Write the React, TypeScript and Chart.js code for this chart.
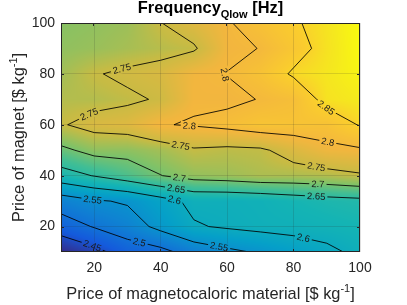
import React, { useEffect, useRef } from "react";
import { Chart, registerables } from "chart.js";

Chart.register(...registerables);

// Grid of the surface: price of magnetocaloric material (x) and price of magnet (y)
const mcmPrice = [10, 20, 30, 40, 50, 60, 70, 80, 90, 100];
const magnetPrice = [10, 20, 30, 40, 50, 60, 70, 80, 90, 100];

// Frequency_Qlow [Hz], one row per magnet price, one value per magnetocaloric price
const freqMagnet10 = [2.405, 2.435, 2.474, 2.486, 2.52, 2.54, 2.555, 2.575, 2.59, 2.61];
const freqMagnet20 = [2.475, 2.503, 2.526, 2.563, 2.596, 2.605, 2.612, 2.614, 2.619, 2.625];
const freqMagnet30 = [2.525, 2.545, 2.555, 2.582, 2.611, 2.611, 2.615, 2.625, 2.633, 2.638];
const freqMagnet40 = [2.63, 2.652, 2.675, 2.699, 2.717, 2.722, 2.731, 2.731, 2.735, 2.745];
const freqMagnet50 = [2.69, 2.714, 2.714, 2.726, 2.745, 2.74, 2.743, 2.768, 2.79, 2.794];
const freqMagnet60 = [2.746, 2.766, 2.772, 2.798, 2.803, 2.812, 2.825, 2.823, 2.82, 2.853];
const freqMagnet70 = [2.735, 2.735, 2.743, 2.754, 2.794, 2.7925, 2.8013, 2.813, 2.866, 2.875];
const freqMagnet80 = [2.725, 2.747, 2.758, 2.765, 2.7928, 2.8008, 2.821, 2.856, 2.87, 2.885];
const freqMagnet90 = [2.715, 2.72, 2.728, 2.737, 2.745, 2.7928, 2.8008, 2.831, 2.866, 2.89];
const freqMagnet100 = [2.71, 2.715, 2.722, 2.749, 2.773, 2.796, 2.82, 2.844, 2.868, 2.892];

const contourLevels = [2.45, 2.5, 2.55, 2.6, 2.65, 2.7, 2.75, 2.8, 2.85];

// Contour labels: level and approximate location (data coordinates)
const labelLevel = [2.75, 2.75, 2.75, 2.75, 2.8, 2.8, 2.8, 2.85, 2.7, 2.7, 2.65, 2.65, 2.6, 2.6, 2.55, 2.55, 2.5, 2.45];
const labelX = [28.5, 18, 46.1, 86.8, 58.9, 48.6, 90.3, 90.3, 45.6, 87.3, 44.6, 86.8, 44.1, 82.9, 19.5, 57.6, 33.6, 19.5];
const labelY = [81.1, 65.3, 52.3, 43.2, 78.9, 59.3, 53.2, 67.5, 38.7, 36.1, 34.5, 32.0, 30.2, 15.3, 30.5, 12.1, 14.0, 12.7];

const xTicks = [20, 40, 60, 80, 100];
const yTicks = [20, 40, 60, 80, 100];

const titleMain = "Frequency";
const titleSub = "Qlow";
const titleUnit = " [Hz]";
const xTitle = "Price of magnetocaloric material [$ kg";
const yTitle = "Price of magnet [$ kg";
const unitSup = "-1";

const Z: number[][] = [
  freqMagnet10, freqMagnet20, freqMagnet30, freqMagnet40, freqMagnet50,
  freqMagnet60, freqMagnet70, freqMagnet80, freqMagnet90, freqMagnet100,
];

const zMin = Math.min(...Z.map((r) => Math.min(...r)));
const zMax = Math.max(...Z.map((r) => Math.max(...r)));

const FONT = "'Liberation Sans', Arial, Helvetica, sans-serif";
const AXIS_COLOR = "#262626";

type P = { x: number; y: number };

const parulaStops: number[][] = [
  [0.0, 53, 42, 135],
  [0.12, 20, 90, 220],
  [0.25, 15, 130, 210],
  [0.35, 5, 160, 200],
  [0.45, 20, 180, 180],
  [0.54, 65, 190, 148],
  [0.62, 130, 194, 102],
  [0.7, 198, 187, 68],
  [0.8, 243, 182, 62],
  [0.9, 250, 204, 46],
  [0.96, 245, 232, 30],
  [1.0, 249, 251, 14],
];

function parula(t: number): number[] {
  t = Math.max(0, Math.min(1, t));
  for (let i = 1; i < parulaStops.length; i++) {
    const b = parulaStops[i];
    if (t <= b[0]) {
      const a = parulaStops[i - 1];
      const f = (t - a[0]) / (b[0] - a[0]);
      return [a[1] + f * (b[1] - a[1]), a[2] + f * (b[2] - a[2]), a[3] + f * (b[3] - a[3])];
    }
  }
  const l = parulaStops[parulaStops.length - 1];
  return [l[1], l[2], l[3]];
}

function findCell(arr: number[], v: number): [number, number] {
  let i = 0;
  while (i < arr.length - 2 && v > arr[i + 1]) i++;
  let f = (v - arr[i]) / (arr[i + 1] - arr[i]);
  f = Math.max(0, Math.min(1, f));
  return [i, f];
}

function bilinear(x: number, y: number): number {
  const [i, fx] = findCell(mcmPrice, x);
  const [j, fy] = findCell(magnetPrice, y);
  const z00 = Z[j][i], z10 = Z[j][i + 1], z01 = Z[j + 1][i], z11 = Z[j + 1][i + 1];
  return (z00 * (1 - fx) + z10 * fx) * (1 - fy) + (z01 * (1 - fx) + z11 * fx) * fy;
}

function edgePoint(i1: number, j1: number, i2: number, j2: number, L: number): P {
  if (i2 < i1 || (i2 === i1 && j2 < j1)) {
    [i1, i2] = [i2, i1];
    [j1, j2] = [j2, j1];
  }
  const za = Z[j1][i1], zb = Z[j2][i2];
  const t = (L - za) / (zb - za);
  return {
    x: mcmPrice[i1] + t * (mcmPrice[i2] - mcmPrice[i1]),
    y: magnetPrice[j1] + t * (magnetPrice[j2] - magnetPrice[j1]),
  };
}

function contourLines(L: number): P[][] {
  const segs: [P, P][] = [];
  for (let j = 0; j < magnetPrice.length - 1; j++) {
    for (let i = 0; i < mcmPrice.length - 1; i++) {
      const a00 = Z[j][i] >= L, a10 = Z[j][i + 1] >= L, a01 = Z[j + 1][i] >= L, a11 = Z[j + 1][i + 1] >= L;
      const pts: { [k: string]: P } = {};
      if (a00 !== a10) pts.b = edgePoint(i, j, i + 1, j, L);
      if (a10 !== a11) pts.r = edgePoint(i + 1, j, i + 1, j + 1, L);
      if (a01 !== a11) pts.t = edgePoint(i, j + 1, i + 1, j + 1, L);
      if (a00 !== a01) pts.l = edgePoint(i, j, i, j + 1, L);
      const keys = Object.keys(pts);
      if (keys.length === 2) {
        segs.push([pts[keys[0]], pts[keys[1]]]);
      } else if (keys.length === 4) {
        const c = (Z[j][i] + Z[j][i + 1] + Z[j + 1][i] + Z[j + 1][i + 1]) / 4 >= L;
        if (c === a00) {
          segs.push([pts.b, pts.r]);
          segs.push([pts.t, pts.l]);
        } else {
          segs.push([pts.l, pts.b]);
          segs.push([pts.r, pts.t]);
        }
      }
    }
  }
  const key = (p: P) => p.x.toFixed(6) + "," + p.y.toFixed(6);
  const used = segs.map(() => false);
  const lines: P[][] = [];
  for (let s = 0; s < segs.length; s++) {
    if (used[s]) continue;
    used[s] = true;
    const line = [segs[s][0], segs[s][1]];
    let ext = true;
    while (ext) {
      ext = false;
      for (let k = 0; k < segs.length; k++) {
        if (used[k]) continue;
        const [a, b] = segs[k];
        const head = key(line[0]);
        const tail = key(line[line.length - 1]);
        if (key(a) === tail) line.push(b);
        else if (key(b) === tail) line.push(a);
        else if (key(a) === head) line.unshift(b);
        else if (key(b) === head) line.unshift(a);
        else continue;
        used[k] = true;
        ext = true;
      }
    }
    lines.push(line);
  }
  return lines;
}

const contours = contourLevels.map((L) => contourLines(L));

function fmtLevel(v: number): string {
  return String(Math.round(v * 100) / 100);
}

let heatCanvas: HTMLCanvasElement | null = null;

const heatPlugin = {
  id: "heatmap",
  beforeDraw(chart: any) {
    const { ctx, chartArea: a, scales } = chart;
    const w = Math.round(a.right - a.left);
    const h = Math.round(a.bottom - a.top);
    const off = document.createElement("canvas");
    off.width = w;
    off.height = h;
    const octx = off.getContext("2d")!;
    const img = octx.createImageData(w, h);
    for (let py = 0; py < h; py++) {
      const yv = scales.y.getValueForPixel(a.top + py + 0.5);
      for (let px = 0; px < w; px++) {
        const xv = scales.x.getValueForPixel(a.left + px + 0.5);
        const z = bilinear(xv, yv);
        const c = parula((z - zMin) / (zMax - zMin));
        const k = (py * w + px) * 4;
        img.data[k] = c[0];
        img.data[k + 1] = c[1];
        img.data[k + 2] = c[2];
        img.data[k + 3] = 255;
      }
    }
    octx.putImageData(img, 0, 0);
    heatCanvas = off;
    ctx.drawImage(off, a.left, a.top);
  },
  afterDatasetsDraw(chart: any) {
    const { ctx, chartArea: a, scales } = chart;
    ctx.save();
    ctx.font = `9.5px ${FONT}`;
    for (let n = 0; n < labelLevel.length; n++) {
      const li = contourLevels.findIndex((L) => Math.abs(L - labelLevel[n]) < 1e-9);
      if (li < 0) continue;
      const tx = scales.x.getPixelForValue(labelX[n]);
      const ty = scales.y.getPixelForValue(labelY[n]);
      let best = { d: Infinity, line: [] as { x: number; y: number }[], seg: 0, t: 0 };
      for (const line of contours[li]) {
        const pl = line.map((p) => ({ x: scales.x.getPixelForValue(p.x), y: scales.y.getPixelForValue(p.y) }));
        for (let s = 0; s < pl.length - 1; s++) {
          const A = pl[s], B = pl[s + 1];
          const dx = B.x - A.x, dy = B.y - A.y;
          const len2 = dx * dx + dy * dy || 1e-9;
          let t = ((tx - A.x) * dx + (ty - A.y) * dy) / len2;
          t = Math.max(0, Math.min(1, t));
          const qx = A.x + t * dx, qy = A.y + t * dy;
          const d = (qx - tx) ** 2 + (qy - ty) ** 2;
          if (d < best.d) best = { d, line: pl, seg: s, t };
        }
      }
      if (!best.line.length) continue;
      const pl = best.line;
      const cum = [0];
      for (let s = 1; s < pl.length; s++) cum.push(cum[s - 1] + Math.hypot(pl[s].x - pl[s - 1].x, pl[s].y - pl[s - 1].y));
      const s0 = cum[best.seg] + best.t * (cum[best.seg + 1] - cum[best.seg]);
      const at = (s: number) => {
        s = Math.max(0, Math.min(cum[cum.length - 1], s));
        let k = 0;
        while (k < cum.length - 2 && s > cum[k + 1]) k++;
        const f = (s - cum[k]) / ((cum[k + 1] - cum[k]) || 1e-9);
        return { x: pl[k].x + f * (pl[k + 1].x - pl[k].x), y: pl[k].y + f * (pl[k + 1].y - pl[k].y) };
      };
      const text = fmtLevel(labelLevel[n]);
      const tw = ctx.measureText(text).width;
      const p0 = at(s0 - tw / 2 - 2);
      const p1 = at(s0 + tw / 2 + 2);
      const c = at(s0);
      let ang = Math.atan2(p1.y - p0.y, p1.x - p0.x);
      if (ang > Math.PI / 2) ang -= Math.PI;
      if (ang < -Math.PI / 2) ang += Math.PI;
      if (heatCanvas) {
        ctx.save();
        ctx.beginPath();
        ctx.rect(a.left, a.top, a.right - a.left, a.bottom - a.top);
        ctx.clip();
        ctx.translate(c.x, c.y);
        ctx.rotate(ang);
        ctx.beginPath();
        ctx.rect(-tw / 2 - 2, -4.5, tw + 4, 9);
        ctx.clip();
        ctx.rotate(-ang);
        ctx.translate(-c.x, -c.y);
        ctx.drawImage(heatCanvas, a.left, a.top);
        ctx.restore();
      }
      ctx.save();
      ctx.translate(c.x, c.y);
      ctx.rotate(ang);
      ctx.fillStyle = "#1a1a1a";
      ctx.textAlign = "center";
      ctx.textBaseline = "middle";
      ctx.fillText(text, 0, 0.5);
      ctx.restore();
    }
    ctx.restore();
  },
  afterDraw(chart: any) {
    const { ctx, chartArea: a } = chart;
    ctx.save();
    ctx.strokeStyle = AXIS_COLOR;
    ctx.lineWidth = 1;
    ctx.strokeRect(a.left + 0.5, a.top + 0.5, a.right - a.left - 1, a.bottom - a.top - 1);
    const sx = chart.scales.x, sy = chart.scales.y;
    ctx.beginPath();
    for (const v of xTicks) {
      const px = Math.round(sx.getPixelForValue(v)) - 0.5;
      ctx.moveTo(px, a.bottom);
      ctx.lineTo(px, a.bottom - 3);
      ctx.moveTo(px, a.top);
      ctx.lineTo(px, a.top + 3);
    }
    for (const v of yTicks) {
      const py = Math.round(sy.getPixelForValue(v)) + 0.5;
      ctx.moveTo(a.left, py);
      ctx.lineTo(a.left + 3, py);
      ctx.moveTo(a.right, py);
      ctx.lineTo(a.right - 3, py);
    }
    ctx.stroke();

    ctx.fillStyle = "#000";
    ctx.textBaseline = "alphabetic";
    ctx.textAlign = "left";
    const big = `bold 16.4px ${FONT}`;
    const small = `bold 11px ${FONT}`;
    ctx.font = big;
    const w1 = ctx.measureText(titleMain).width;
    const w3 = ctx.measureText(titleUnit).width;
    ctx.font = small;
    const w2 = ctx.measureText(titleSub).width;
    const cx = (a.left + a.right) / 2;
    const x0 = cx - (w1 + w2 + w3) / 2;
    const base = 12.5;
    ctx.font = big;
    ctx.fillText(titleMain, x0, base);
    ctx.font = small;
    ctx.fillText(titleSub, x0 + w1, base + 5);
    ctx.font = big;
    ctx.fillText(titleUnit, x0 + w1 + w2, base);

    const drawWithSup = (main: string, cxp: number, cyp: number, rot: number) => {
      ctx.save();
      ctx.translate(cxp, cyp);
      ctx.rotate(rot);
      ctx.fillStyle = AXIS_COLOR;
      const f1 = `16.4px ${FONT}`;
      const f2 = `11px ${FONT}`;
      ctx.font = f1;
      const m = ctx.measureText(main).width;
      const e = ctx.measureText("]").width;
      ctx.font = f2;
      const s = ctx.measureText(unitSup).width;
      const tot = m + s + e;
      const x = -tot / 2;
      ctx.font = f1;
      ctx.fillText(main, x, 0);
      ctx.font = f2;
      ctx.fillText(unitSup, x + m, -7);
      ctx.font = f1;
      ctx.fillText("]", x + m + s, 0);
      ctx.restore();
    };
    drawWithSup(xTitle, cx, 298.5, 0);
    drawWithSup(yTitle, 24, (a.top + a.bottom) / 2, -Math.PI / 2);
    ctx.restore();
  },
};

export default function App() {
  const ref = useRef<HTMLCanvasElement | null>(null);
  useEffect(() => {
    if (!ref.current) return;
    const datasets = contourLevels.map((L, li) => {
      const data: { x: number; y: number | null }[] = [];
      contours[li].forEach((line, k) => {
        if (k > 0) data.push({ x: line[0].x, y: null });
        line.forEach((p) => data.push({ x: p.x, y: p.y }));
      });
      return {
        label: fmtLevel(L),
        data,
        borderColor: "#000",
        borderWidth: 0.85,
        pointRadius: 0,
        fill: false,
        tension: 0,
        spanGaps: false,
      };
    });
    const chart = new Chart(ref.current, {
      type: "line",
      data: { datasets: datasets as any },
      options: {
        animation: false,
        responsive: false,
        devicePixelRatio: 1,
        layout: { padding: { left: 0, right: 47, top: 23, bottom: 0 } },
        plugins: { legend: { display: false }, tooltip: { enabled: false }, title: { display: false } },
        scales: {
          x: {
            type: "linear",
            min: 10,
            max: 100,
            afterBuildTicks: (s: any) => {
              s.ticks = xTicks.map((v) => ({ value: v }));
            },
            afterFit: (s: any) => {
              s.height = 53;
            },
            grid: { color: "rgba(38,38,38,0.15)", drawTicks: false, lineWidth: 1 },
            border: { display: false },
            ticks: { color: AXIS_COLOR, font: { family: FONT, size: 14 }, padding: 8, maxRotation: 0 },
          },
          y: {
            type: "linear",
            min: 10,
            max: 100,
            afterBuildTicks: (s: any) => {
              s.ticks = yTicks.map((v) => ({ value: v }));
            },
            afterFit: (s: any) => {
              s.width = 61;
            },
            grid: { color: "rgba(38,38,38,0.15)", drawTicks: false, lineWidth: 1 },
            border: { display: false },
            ticks: { color: AXIS_COLOR, font: { family: FONT, size: 14 }, padding: 6 },
          },
        },
      },
      plugins: [heatPlugin],
    });
    return () => chart.destroy();
  }, []);
  return (
    <div style={{ position: "fixed", left: 0, top: 0, width: 407, height: 305, background: "#fff" }}>
      <canvas ref={ref} width={407} height={305} style={{ display: "block" }} />
    </div>
  );
}
